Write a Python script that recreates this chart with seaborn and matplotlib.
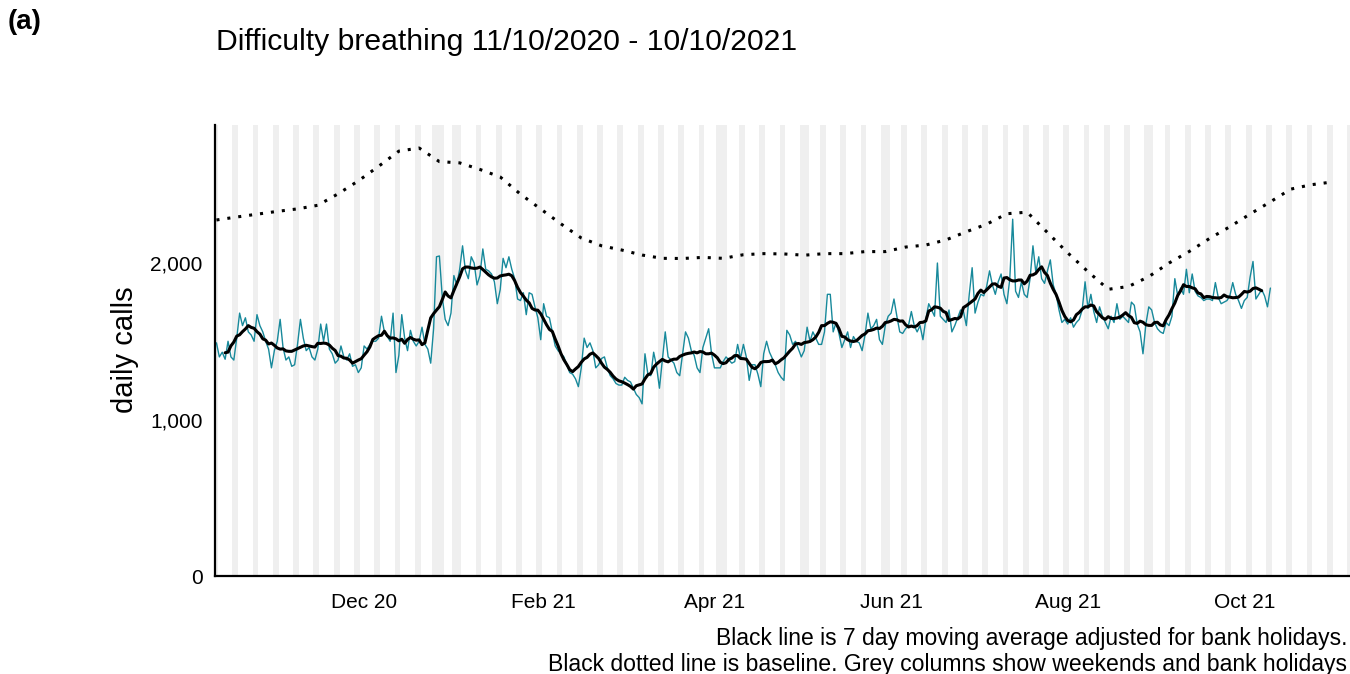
import pandas as pd
import seaborn as sns
import matplotlib.pyplot as plt
import matplotlib.dates as mdates
from matplotlib.ticker import FuncFormatter

# daily calls from 11/10/2020, one row per week (Sun..Sat)
calls = [
    1490, 1400, 1430, 1385, 1500, 1400, 1380,
    1520, 1680, 1600, 1650, 1560, 1540, 1500,
    1670, 1600, 1560, 1500, 1450, 1330, 1440,
    1500, 1640, 1460, 1380, 1400, 1340, 1350,
    1480, 1640, 1520, 1440, 1460, 1400, 1380,
    1450, 1610, 1500, 1610, 1450, 1420, 1360,
    1380, 1470, 1400, 1380, 1420, 1340, 1350,
    1300, 1330, 1470, 1450, 1480, 1500, 1500,
    1520, 1660, 1560, 1530, 1500, 1680, 1300,
    1410, 1670, 1520, 1440, 1570, 1500, 1470,
    1500, 1590, 1480, 1450, 1360, 1580, 2040,
    2045, 1780, 1640, 1600, 1680, 1920, 1860,
    1960, 2110, 1950, 1900, 2040, 2000, 1860,
    1920, 2090, 1960, 1950, 1930, 1880, 1740,
    1830, 2030, 1970, 2040, 1960, 1900, 1770,
    1760, 1810, 1670, 1810, 1800, 1720, 1650,
    1510, 1740, 1660, 1650, 1560, 1470, 1440,
    1420, 1400, 1350, 1300, 1290, 1260, 1210,
    1330, 1520, 1460, 1490, 1440, 1330, 1350,
    1390, 1400, 1330, 1280, 1260, 1230, 1220,
    1220, 1270, 1250, 1240, 1200, 1160, 1140,
    1100, 1420, 1290, 1280, 1430, 1340, 1200,
    1380, 1560, 1400, 1380, 1360, 1300, 1280,
    1420, 1560, 1520, 1440, 1410, 1330, 1300,
    1460, 1520, 1580, 1420, 1330, 1330, 1330,
    1370, 1400, 1380, 1360, 1370, 1480, 1390,
    1480, 1400, 1250, 1350, 1350, 1290, 1210,
    1420, 1500, 1430, 1390, 1350, 1300, 1270,
    1250, 1570, 1540, 1480, 1500, 1450, 1400,
    1440, 1590, 1500, 1560, 1520, 1480, 1480,
    1560, 1800, 1800, 1560, 1620, 1550, 1460,
    1510, 1560, 1460, 1530, 1500, 1490, 1440,
    1540, 1680, 1580, 1600, 1640, 1510, 1480,
    1600, 1660, 1680, 1770, 1660, 1560, 1550,
    1580, 1600, 1690, 1600, 1560, 1600, 1510,
    1640, 1740, 1700, 1660, 2000, 1660, 1640,
    1620, 1700, 1560, 1600, 1650, 1700, 1690,
    1600, 1800, 1970, 1680, 1750, 1800, 1790,
    1850, 1950, 1860, 1800, 1880, 1930, 1800,
    1740, 1900, 2280, 1820, 1780, 1880, 1800,
    1780, 1900, 2110, 1940, 2040, 1900, 1870,
    1950, 2020, 1860, 1800, 1700, 1620, 1640,
    1610, 1650, 1590, 1620, 1640, 1700, 1880,
    1710, 1800, 1690, 1620, 1720, 1660, 1620,
    1580, 1660, 1620, 1740, 1640, 1660, 1640,
    1620, 1750, 1730, 1610, 1560, 1420, 1610,
    1720, 1700, 1620, 1580, 1560, 1550, 1620,
    1600, 1660, 1900, 1790, 1840, 1800, 1960,
    1810, 1930, 1820, 1790, 1780, 1760, 1770,
    1770, 1760, 1875, 1780, 1740, 1750, 1760,
    1790, 1875, 1800, 1760, 1710, 1760, 1780,
    1910, 2010, 1770, 1800, 1830, 1790, 1720,
    1840,
]

# weekly baseline from 11/10/2020
baseline = [
    2275, 2294, 2312, 2330, 2346, 2369, 2442, 2525, 2618, 2715,
    2735, 2648, 2640, 2598, 2550, 2440, 2345, 2250, 2160, 2110,
    2083, 2051, 2030, 2029, 2036, 2030, 2053, 2060, 2058, 2050,
    2060, 2060, 2073, 2073, 2102, 2115, 2148, 2200, 2248, 2315,
    2325, 2195, 2065, 1945, 1832, 1850, 1913, 2000, 2074, 2157,
    2232, 2313, 2391, 2472, 2500, 2517,
]

bank_holidays = ["2020-12-25", "2020-12-28", "2021-01-01", "2021-04-02",
                 "2021-04-05", "2021-05-03", "2021-05-31", "2021-08-30"]
tick_dates = ["2020-12-01", "2021-02-01", "2021-04-01", "2021-06-01",
              "2021-08-01", "2021-10-01"]

start = pd.Timestamp("2020-10-11")
end = pd.Timestamp("2021-11-06")

df = pd.DataFrame({"date": pd.date_range(start, periods=len(calls), freq="D"),
                   "calls": calls})
df["ma"] = df["calls"].rolling(7, center=True).mean()
base = pd.DataFrame({"date": pd.date_range(start, periods=len(baseline), freq="7D"),
                     "baseline": baseline})

sns.set_style("white")
plt.rcParams["font.family"] = ["Liberation Sans", "DejaVu Sans"]
plt.rcParams["text.color"] = "black"
plt.rcParams["axes.labelcolor"] = "black"

fig = plt.figure(figsize=(13.5, 6.74), dpi=100)
ax = fig.add_axes([215 / 1350, 98 / 674, 1135 / 1350, 451 / 674])

# grey columns for weekends and bank holidays
bh = pd.to_datetime(bank_holidays)
half = pd.Timedelta(hours=12)
for d in pd.date_range(start, end, freq="D"):
    if d.dayofweek >= 5 or d in bh:
        ax.axvspan(d - half, d + half, color="#EFEFEF", lw=0, zorder=0)

sns.lineplot(data=df, x="date", y="calls", color="#17899B", linewidth=1.0, ax=ax, zorder=2)
sns.lineplot(data=df, x="date", y="ma", color="black", linewidth=2.2, ax=ax, zorder=3)
sns.lineplot(data=base, x="date", y="baseline", color="black", linewidth=2.2,
             linestyle=(0, (1, 2.6)), ax=ax, zorder=3)

ax.set_xlim(start - half, end + half)
ax.set_ylim(0, 2882)
ax.set_yticks([0, 1000, 2000])
ax.yaxis.set_major_formatter(FuncFormatter(lambda v, p: f"{int(v):,}"))
ax.set_xticks(pd.to_datetime(tick_dates))
ax.xaxis.set_major_formatter(mdates.DateFormatter("%b %y"))
ax.set_xlabel("")
ax.set_ylabel("")

for s in ["top", "right"]:
    ax.spines[s].set_visible(False)
for s in ["left", "bottom"]:
    ax.spines[s].set_color("black")
    ax.spines[s].set_linewidth(1.6)
ax.tick_params(axis="both", colors="black", labelcolor="black", length=5, width=1.2,
               labelsize=15, pad=4)
ax.tick_params(axis="x", pad=7)

fig.text(125 / 1350, 1 - 350 / 674, "daily calls", rotation=90, ha="center", va="center",
         fontsize=21, color="black")
fig.text(216 / 1350, 1 - 42 / 674, "Difficulty breathing 11/10/2020 - 10/10/2021",
         ha="left", va="center", fontsize=21.7, color="black")
fig.text(8 / 1350, 1 - 22 / 674, "(a)", ha="left", va="center", fontsize=20,
         fontweight="bold", color="black")
fig.text(1347 / 1350, 1 - 638 / 674, "Black line is 7 day moving average adjusted for bank holidays.",
         ha="right", va="center", fontsize=16.5, color="black")
fig.text(1347 / 1350, 1 - 664 / 674,
         "Black dotted line is baseline. Grey columns show weekends and bank holidays",
         ha="right", va="center", fontsize=16.6, color="black")

fig.savefig("out.png", dpi=100)
